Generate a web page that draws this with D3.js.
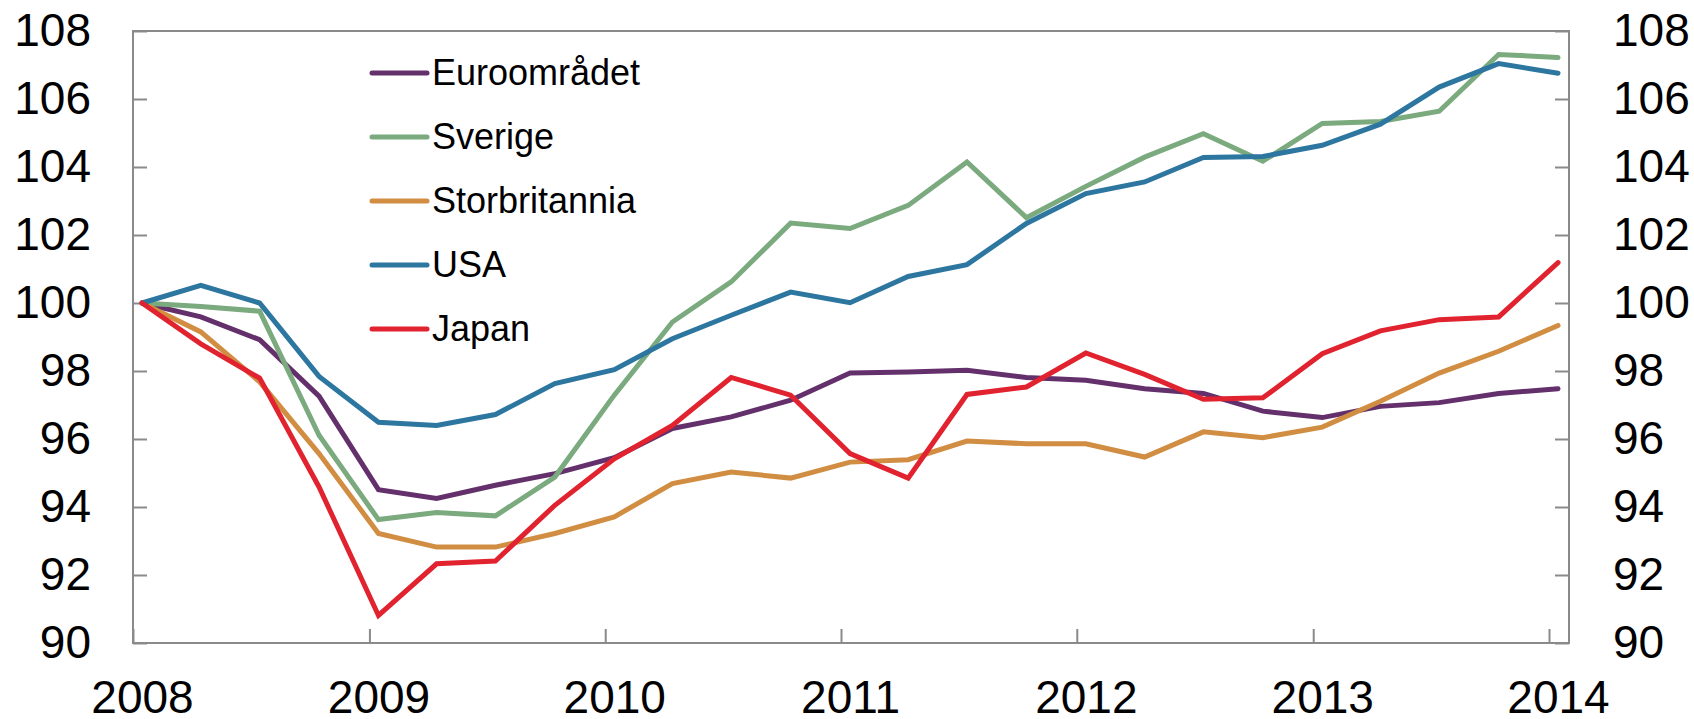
<!DOCTYPE html>
<html>
<head>
<meta charset="utf-8">
<script src="https://cdn.jsdelivr.net/npm/d3@7"></script>
<style>
  html, body { margin: 0; padding: 0; background: #fff; }
  svg { display: block; font-family: Arial, "Liberation Sans", sans-serif; }
  .tick text { font-size: 46px; fill: #000; }
  .legend text { font-size: 36px; fill: #000; }
</style>
</head>
<body>
<div id="chart"></div>
<script>
// quarterly index, 2008 Q1 = 100
const quarters = [
  '2008K1', '2008K2', '2008K3', '2008K4',
  '2009K1', '2009K2', '2009K3', '2009K4',
  '2010K1', '2010K2', '2010K3', '2010K4',
  '2011K1', '2011K2', '2011K3', '2011K4',
  '2012K1', '2012K2', '2012K3', '2012K4',
  '2013K1', '2013K2', '2013K3', '2013K4',
  '2014K1'
];

const euro = [100, 99.59, 98.92, 97.26, 94.51, 94.25, 94.64, 94.98, 95.45, 96.31, 96.65, 97.14, 97.94,
  97.97, 98.02, 97.81, 97.73, 97.48, 97.34, 96.82, 96.63, 96.96, 97.07, 97.34, 97.48];
const sverige = [100, 99.9, 99.76, 96.11, 93.63, 93.84, 93.74, 94.88, 97.29, 99.44, 100.62, 102.35, 102.19,
  102.87, 104.15, 102.51, 103.43, 104.29, 104.98, 104.17, 105.28, 105.34, 105.64, 107.31, 107.22];
const storbritannia = [100, 99.15, 97.68, 95.57, 93.22, 92.82, 92.82, 93.22, 93.71, 94.69, 95.03, 94.85, 95.32,
  95.39, 95.94, 95.86, 95.86, 95.47, 96.21, 96.04, 96.35, 97.11, 97.94, 98.58, 99.34];
const usa = [100, 100.52, 100.0, 97.84, 96.49, 96.40, 96.72, 97.63, 98.04, 98.95, 99.64, 100.32, 100.01,
  100.78, 101.13, 102.34, 103.22, 103.56, 104.28, 104.31, 104.64, 105.26, 106.35, 107.04, 106.76];
const japan = [100, 98.8, 97.79, 94.59, 90.81, 92.33, 92.41, 94.05, 95.42, 96.40, 97.81, 97.29, 95.57,
  94.85, 97.31, 97.53, 98.53, 97.90, 97.17, 97.21, 98.51, 99.18, 99.51, 99.59, 101.19];

const seriesNames = ['Euroområdet', 'Sverige', 'Storbritannia', 'USA', 'Japan'];
const seriesValues = [euro, sverige, storbritannia, usa, japan];
const colors = ['#63306b', '#7aaa7e', '#d18d41', '#2c76a0', '#e1222f'];

const yTicks = [90, 92, 94, 96, 98, 100, 102, 104, 106, 108];
const years = [2008, 2009, 2010, 2011, 2012, 2013, 2014];

// layout
const fullWidth = 1694;
const fullHeight = 719;
const margin = { top: 31, right: 125, bottom: 76, left: 133 };
const width = fullWidth - margin.left - margin.right;
const height = fullHeight - margin.top - margin.bottom;
const tickLen = 14;
const axisColor = '#8a8a8a';

// quarter label -> mid of first month in quarter
const quarterDate = q => new Date(+q.slice(0, 4), (+q.slice(5) - 1) * 3, 15);

const svg = d3.select('#chart').append('svg')
  .attr('width', fullWidth)
  .attr('height', fullHeight);

const g = svg.append('g')
  .attr('transform', `translate(${margin.left},${margin.top})`);

const x = d3.scaleTime()
  .domain([new Date(2008, 0, 1), new Date(2014, 0, 1)])
  .range([0, 1416]);

const y = d3.scaleLinear().domain([90, 108]).range([height, 0]);

// y axes, ticks pointing inward
const yLeft = g.append('g')
  .call(d3.axisLeft(y).tickValues(yTicks).tickSizeInner(-tickLen).tickSizeOuter(0).tickPadding(42));
const yRight = g.append('g')
  .attr('transform', `translate(${width},0)`)
  .call(d3.axisRight(y).tickValues(yTicks).tickSizeInner(-tickLen).tickSizeOuter(0).tickPadding(44));

// year ticks at year start
const xTicks = g.append('g')
  .attr('transform', `translate(0,${height})`)
  .call(d3.axisBottom(x).tickValues(years.map(yr => new Date(yr, 0, 1)))
    .tickSizeInner(-tickLen).tickSizeOuter(0).tickFormat(''));

// year labels on the first quarter of each year
const xLabels = g.append('g')
  .attr('transform', `translate(0,${height})`)
  .call(d3.axisBottom(x).tickValues(years.map(yr => quarterDate(yr + 'K1')))
    .tickSize(0).tickPadding(37).tickFormat(d3.timeFormat('%Y')));

[yLeft, yRight, xTicks, xLabels].forEach(a => {
  a.select('.domain').remove();
  a.attr('font-family', null).attr('font-size', null);
  a.selectAll('.tick line').attr('stroke', axisColor).attr('stroke-width', 2);
});
xLabels.selectAll('.tick line').remove();

// plot frame
g.append('rect')
  .attr('x', 0)
  .attr('y', 0)
  .attr('width', width)
  .attr('height', height)
  .attr('fill', 'none')
  .attr('stroke', axisColor)
  .attr('stroke-width', 2);

// lines
const line = d3.line()
  .x((d, i) => x(quarterDate(quarters[i])))
  .y(d => y(d));

g.selectAll('.series')
  .data(seriesValues)
  .join('path')
  .attr('class', 'series')
  .attr('d', d => line(d))
  .attr('fill', 'none')
  .attr('stroke', (d, i) => colors[i])
  .attr('stroke-width', 5)
  .attr('stroke-linecap', 'round');

// legend
const legend = svg.append('g')
  .attr('class', 'legend')
  .attr('transform', 'translate(372,73)');

const items = legend.selectAll('g')
  .data(seriesNames)
  .join('g')
  .attr('transform', (d, i) => `translate(0,${i * 64})`);

items.append('line')
  .attr('x1', 0)
  .attr('x2', 55)
  .attr('stroke', (d, i) => colors[i])
  .attr('stroke-width', 5)
  .attr('stroke-linecap', 'round');

items.append('text')
  .attr('x', 60)
  .attr('dy', '0.32em')
  .text(d => d);
</script>
</body>
</html>
